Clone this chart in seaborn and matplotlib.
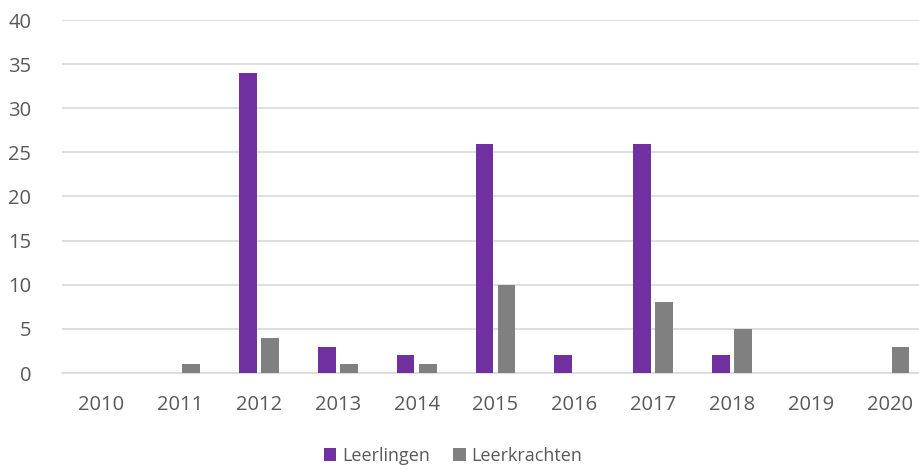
import pandas as pd
import matplotlib
matplotlib.use("Agg")
import matplotlib.pyplot as plt
import seaborn as sns

# ── Data ─────────────────────────────────────────────────────────────────────
years        = ["2010", "2011", "2012", "2013", "2014", "2015",
                "2016", "2017", "2018", "2019", "2020"]
leerlingen   = [0, 0, 34, 3, 2, 26, 2, 26, 2, 0, 0]
leerkrachten = [0, 1, 4, 1, 1, 10, 0, 8, 5, 0, 3]
series       = ["Leerlingen", "Leerkrachten"]
colors       = ["#7030A0", "#808080"]

df = pd.DataFrame({
    "year":  years * 2,
    "value": leerlingen + leerkrachten,
    "serie": [series[0]] * len(years) + [series[1]] * len(years),
})

# ── Plot ─────────────────────────────────────────────────────────────────────
sns.set_style("white")
plt.rcParams["font.family"] = ["Open Sans", "DejaVu Sans"]
text_col = "#595959"
grid_col = "#D9D9D9"

fig = plt.figure(figsize=(9.2, 4.69), dpi=100)
ax = fig.add_axes([62 / 920, 96 / 469, 867 / 920, 353 / 469])

sns.barplot(data=df, x="year", y="value", hue="serie", hue_order=series,
            palette=colors, width=0.56, gap=0.2, saturation=1,
            linewidth=0, ax=ax, zorder=3)

ax.set_ylim(0, 40)
ax.set_yticks(range(0, 41, 5))
ax.set_xlim(-0.5, len(years) - 0.5)
ax.grid(axis="y", color=grid_col, linewidth=1.2, zorder=0)
ax.set_xlabel("")
ax.set_ylabel("")
for s in ["top", "right", "left"]:
    ax.spines[s].set_visible(False)
ax.spines["bottom"].set_color(grid_col)
ax.spines["bottom"].set_linewidth(1.2)
ax.tick_params(axis="both", length=0, labelsize=14.5, colors=text_col)
ax.tick_params(axis="y", pad=22)
ax.tick_params(axis="x", pad=16)

handles, labels = ax.get_legend_handles_labels()
ax.legend_.remove()
fig.legend(handles, labels, loc="center", bbox_to_anchor=(453 / 920, 1 - 456 / 469),
           ncol=2, frameon=False, fontsize=13, labelcolor=text_col,
           handlelength=0.7, handleheight=0.7, handletextpad=0.3, columnspacing=1.3)

fig.savefig("out.png", dpi=100)
